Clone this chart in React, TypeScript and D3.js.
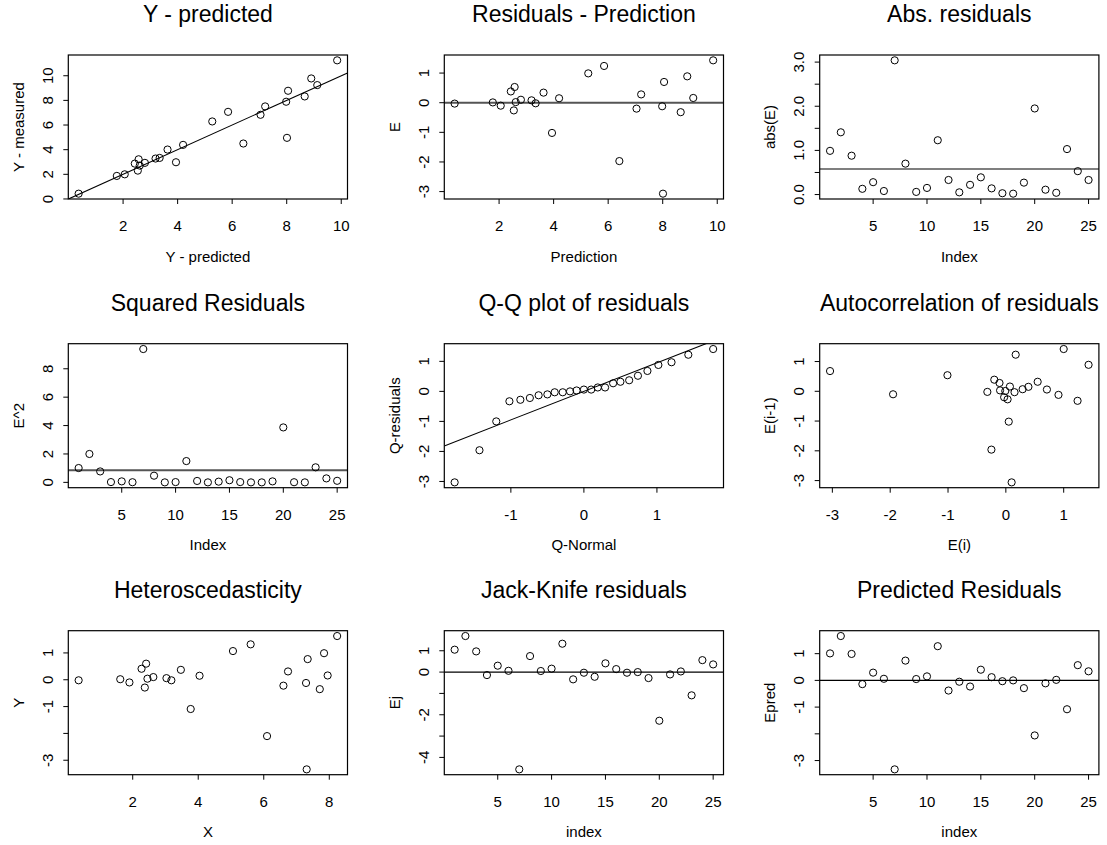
import * as d3 from 'd3'

const FONT = '"Liberation Sans", Arial, Helvetica, sans-serif'

// Y - predicted / Residuals - Prediction (same observations, ordered by prediction)
const predicted = [0.37, 1.77, 2.06, 2.43, 2.57, 2.54, 2.61, 2.8, 3.19, 3.34, 3.63, 3.94, 4.2, 5.27, 5.85, 6.41, 7.04, 7.21, 7.98, 8.05, 8.01, 8.66, 8.9, 9.12, 9.85]
const measured = [0.43, 1.87, 2.0, 2.87, 3.22, 2.3, 2.71, 2.93, 3.28, 3.33, 4.01, 2.98, 4.39, 6.29, 7.07, 4.5, 6.83, 7.51, 7.89, 8.78, 4.96, 8.32, 9.78, 9.24, 11.25]
const residuals = [-0.03, 0.01, -0.1, 0.38, 0.53, -0.26, 0.02, 0.1, 0.08, -0.02, 0.34, -1.02, 0.15, 0.99, 1.24, -1.97, -0.2, 0.28, -0.12, 0.7, -3.07, -0.32, 0.89, 0.16, 1.43]

// by observation index 1..25
const absResid = [0.99, 1.41, 0.88, 0.13, 0.28, 0.08, 3.04, 0.7, 0.06, 0.15, 1.23, 0.33, 0.05, 0.22, 0.39, 0.14, 0.03, 0.02, 0.27, 1.95, 0.11, 0.04, 1.03, 0.53, 0.33]
const sqResid = [1.01, 2.0, 0.77, 0.02, 0.07, 0.01, 9.39, 0.47, 0.0, 0.02, 1.5, 0.1, 0.0, 0.05, 0.15, 0.02, 0.0, 0.0, 0.07, 3.87, 0.01, 0.0, 1.06, 0.28, 0.11]
const jackKnife = [1.05, 1.69, 0.97, -0.14, 0.3, 0.06, -4.56, 0.75, 0.05, 0.16, 1.33, -0.34, -0.03, -0.22, 0.41, 0.14, -0.03, 0.0, -0.28, -2.28, -0.11, 0.03, -1.09, 0.56, 0.36]
const predResid = [1.01, 1.66, 0.99, -0.14, 0.29, 0.06, -3.33, 0.74, 0.05, 0.15, 1.28, -0.38, -0.05, -0.23, 0.4, 0.12, -0.03, 0.0, -0.29, -2.06, -0.11, 0.02, -1.08, 0.57, 0.34]
const index = d3.range(1, 26)

const meanAbs = 0.58
const meanSq = 0.85

// Q-Q
const qqNormal = [-1.77, -1.43, -1.2, -1.02, -0.87, -0.74, -0.62, -0.5, -0.4, -0.29, -0.19, -0.1, 0, 0.1, 0.19, 0.29, 0.4, 0.5, 0.62, 0.74, 0.87, 1.02, 1.2, 1.43, 1.77]
const qqResid = [-3.03, -1.96, -1.0, -0.33, -0.28, -0.22, -0.13, -0.1, -0.03, -0.03, 0.0, 0.03, 0.06, 0.06, 0.13, 0.13, 0.27, 0.32, 0.37, 0.52, 0.68, 0.88, 0.97, 1.22, 1.41]
const qqLine: [number, number] = [0, 0.95] // intercept, slope

// autocorrelation
const autoEi = [-3.04, -1.95, -1.01, -0.32, -0.2, -0.11, -0.1, -0.01, -0.03, 0.03, 0.07, 0.15, 0.17, 0.05, 0.1, 0.29, 0.39, 0.55, 0.71, 0.91, 1.0, 1.24, 1.43, -0.25]
const autoEprev = [0.68, -0.1, 0.54, -0.02, 0.39, 0.28, 0.03, 0.01, -0.2, -0.27, 0.16, -0.03, 1.23, -1.02, -3.06, 0.07, 0.15, 0.32, 0.06, -0.12, 1.42, -0.32, 0.89, -1.96]

// heteroscedasticity
const heteroX = [0.35, 1.62, 1.9, 2.27, 2.41, 2.37, 2.45, 2.63, 3.03, 3.18, 3.47, 3.77, 4.04, 5.06, 5.6, 6.1, 6.6, 6.74, 7.29, 7.34, 7.31, 7.71, 7.84, 7.95, 8.24]
const heteroY = [-0.02, 0.02, -0.1, 0.41, 0.6, -0.29, 0.04, 0.1, 0.06, -0.02, 0.37, -1.09, 0.15, 1.07, 1.32, -2.1, -0.22, 0.31, -0.12, 0.77, -3.34, -0.35, 0.99, 0.16, 1.63]

// layout
const colLeft = [68.3, 444.3, 819.7]
const rowTop = [55, 343.7, 630.7]
const BOX_W = 279.2
const BOX_H = 144

interface Spec {
  title: string
  xLabel: string
  yLabel: string
  x: number[]
  y: number[]
  xTicks: number[]
  yTicks: number[]
  yShown?: number[]
  yFmt?: (v: number) => string
  hline?: number
  hlineGray?: boolean
  abline?: [number, number]
}

const specs: Spec[] = [
  { title: 'Y - predicted', xLabel: 'Y - predicted', yLabel: 'Y - measured', x: predicted, y: measured,
    xTicks: [2, 4, 6, 8, 10], yTicks: [0, 2, 4, 6, 8, 10], abline: [0, 1] },
  { title: 'Residuals - Prediction', xLabel: 'Prediction', yLabel: 'E', x: predicted, y: residuals,
    xTicks: [2, 4, 6, 8, 10], yTicks: [-3, -2, -1, 0, 1], hline: 0, hlineGray: true },
  { title: 'Abs. residuals', xLabel: 'Index', yLabel: 'abs(E)', x: index, y: absResid,
    xTicks: [5, 10, 15, 20, 25], yTicks: [0, 0.5, 1, 1.5, 2, 2.5, 3], yShown: [0, 1, 2, 3],
    yFmt: v => v.toFixed(1), hline: meanAbs },
  { title: 'Squared Residuals', xLabel: 'Index', yLabel: 'E^2', x: index, y: sqResid,
    xTicks: [5, 10, 15, 20, 25], yTicks: [0, 2, 4, 6, 8], hline: meanSq, hlineGray: true },
  { title: 'Q-Q plot of residuals', xLabel: 'Q-Normal', yLabel: 'Q-residuals', x: qqNormal, y: qqResid,
    xTicks: [-1, 0, 1], yTicks: [-3, -2, -1, 0, 1], abline: qqLine },
  { title: 'Autocorrelation of residuals', xLabel: 'E(i)', yLabel: 'E(i-1)', x: autoEi, y: autoEprev,
    xTicks: [-3, -2, -1, 0, 1], yTicks: [-3, -2, -1, 0, 1] },
  { title: 'Heteroscedasticity', xLabel: 'X', yLabel: 'Y', x: heteroX, y: heteroY,
    xTicks: [2, 4, 6, 8], yTicks: [-3, -2, -1, 0, 1], yShown: [-3, -1, 0, 1] },
  { title: 'Jack-Knife residuals', xLabel: 'index', yLabel: 'Ej', x: index, y: jackKnife,
    xTicks: [5, 10, 15, 20, 25], yTicks: [-4, -3, -2, -1, 0, 1], yShown: [-4, -2, 0, 1], hline: 0 },
  { title: 'Predicted Residuals', xLabel: 'index', yLabel: 'Epred', x: index, y: predResid,
    xTicks: [5, 10, 15, 20, 25], yTicks: [-3, -2, -1, 0, 1], yShown: [-3, -1, 0, 1], hline: 0 },
]

// R's default axis range: data range stretched 4% on each side
function rRange(v: number[]): [number, number] {
  const [lo, hi] = d3.extent(v) as [number, number]
  const pad = (hi - lo) * 0.04
  return [lo - pad, hi + pad]
}

function Panel({ spec, left, top, id }: { spec: Spec; left: number; top: number; id: string }) {
  const x = d3.scaleLinear().domain(rRange(spec.x)).range([left, left + BOX_W])
  const y = d3.scaleLinear().domain(rRange(spec.y)).range([top + BOX_H, top])
  const bottom = top + BOX_H
  const cx = left + BOX_W / 2
  const fmt = spec.yFmt || ((v: number) => String(v))
  const shown = spec.yShown || spec.yTicks
  const [x0, x1] = x.domain()

  return (
    <g fontFamily={FONT} fill="#000">
      <clipPath id={id}>
        <rect x={left} y={top} width={BOX_W} height={BOX_H} />
      </clipPath>
      <text x={cx} y={top - 33} fontSize={23} textAnchor="middle">{spec.title}</text>

      {spec.hline !== undefined && (
        <line x1={left} x2={left + BOX_W} y1={y(spec.hline)} y2={y(spec.hline)}
          stroke={spec.hlineGray ? '#555' : '#000'} strokeWidth={spec.hlineGray ? 2 : 1.1} />
      )}
      {spec.abline && (
        <line clipPath={`url(#${id})`}
          x1={x(x0)} y1={y(spec.abline[0] + spec.abline[1] * x0)}
          x2={x(x1)} y2={y(spec.abline[0] + spec.abline[1] * x1)}
          stroke="#000" strokeWidth={1.1} />
      )}

      {spec.x.map((xv, i) => (
        <circle key={i} cx={x(xv)} cy={y(spec.y[i])} r={3.6} fill="none" stroke="#000" strokeWidth={1} />
      ))}

      <rect x={left} y={top} width={BOX_W} height={BOX_H} fill="none" stroke="#000" strokeWidth={1.2} />

      {spec.xTicks.map(t => (
        <g key={'x' + t}>
          <line x1={x(t)} x2={x(t)} y1={bottom} y2={bottom + 5} stroke="#000" strokeWidth={1} />
          <text x={x(t)} y={bottom + 32} fontSize={15} textAnchor="middle">{String(t)}</text>
        </g>
      ))}
      {spec.yTicks.map(t => (
        <g key={'y' + t}>
          <line x1={left - 5} x2={left} y1={y(t)} y2={y(t)} stroke="#000" strokeWidth={1} />
          {shown.includes(t) && (
            <text transform={`translate(${left - 15.6},${y(t)}) rotate(-90)`} fontSize={15} textAnchor="middle">
              {fmt(t)}
            </text>
          )}
        </g>
      ))}

      <text x={cx} y={bottom + 62.7} fontSize={15} textAnchor="middle">{spec.xLabel}</text>
      <text transform={`translate(${left - 44.3},${top + BOX_H / 2}) rotate(-90)`} fontSize={15} textAnchor="middle">
        {spec.yLabel}
      </text>
    </g>
  )
}

export default function App() {
  return (
    <svg width={1107} height={845} style={{ position: 'absolute', left: 0, top: 0, background: '#fff' }}>
      <rect width={1107} height={845} fill="#fff" />
      {specs.map((s, i) => (
        <Panel key={i} id={`clip${i}`} spec={s} left={colLeft[i % 3]} top={rowTop[Math.floor(i / 3)]} />
      ))}
    </svg>
  )
}
